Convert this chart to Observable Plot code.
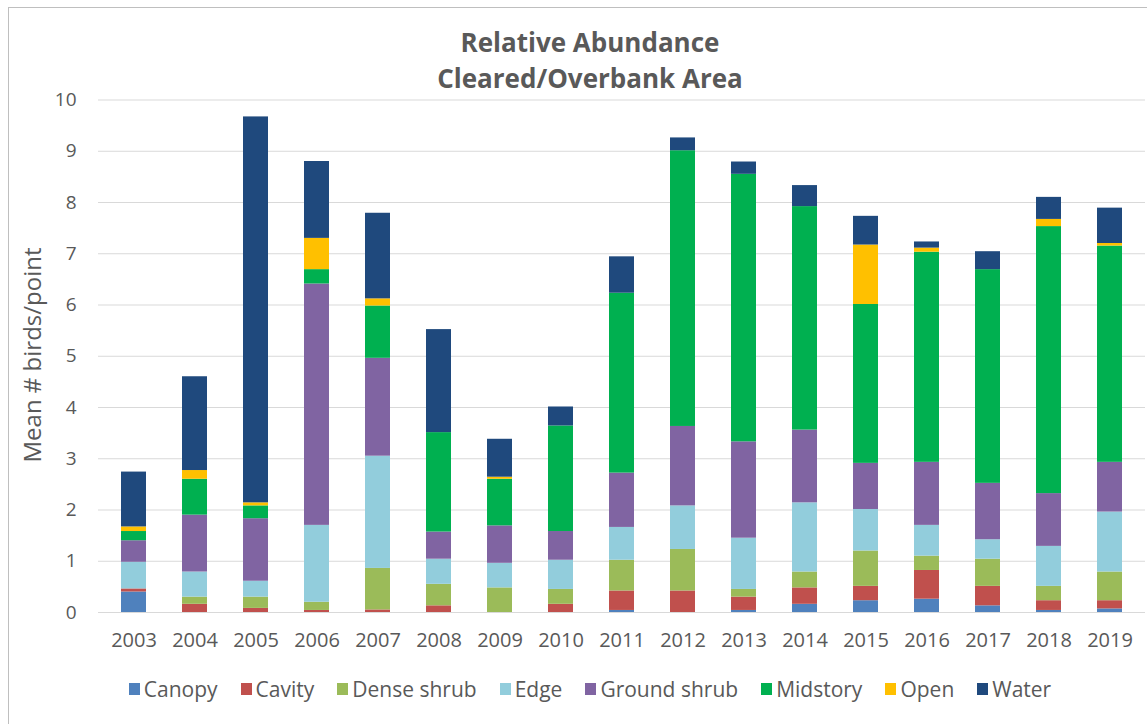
<!DOCTYPE html>
<html>
<head>
<meta charset="utf-8">
<script src="https://cdn.jsdelivr.net/npm/d3@7"></script>
<script src="https://cdn.jsdelivr.net/npm/@observablehq/plot@0.6"></script>
<style>
  html, body { margin: 0; padding: 0; background: #fff; }
  body { width: 1147px; height: 724px; position: relative; overflow: hidden; font-family: "Open Sans", Lato, sans-serif; color: #595959; }
  #frame { position: absolute; left: 8px; top: 7px; width: 1200px; height: 800px; border-top: 1px solid #bfbfbf; border-left: 1px solid #bfbfbf; }
  #title { position: absolute; left: 0; width: 1180px; top: 24px; text-align: center; font-weight: bold; font-size: 26px; line-height: 36px; color: #595959; }
  #ylabel { position: absolute; left: 31px; top: 355px; transform: translate(-50%, -50%) rotate(-90deg); font-size: 24px; white-space: nowrap; color: #595959; }
  #chart { position: absolute; left: 0; top: 85px; }
  #legend { position: absolute; left: 0; width: 1180px; top: 675px; display: flex; justify-content: center; gap: 23px; font-size: 21px; color: #595959; }
  .item { display: flex; align-items: center; gap: 4px; }
  .sw { width: 11px; height: 12px; display: inline-block; }
</style>
</head>
<body>
<div id="frame"></div>
<div id="title">Relative Abundance<br>Cleared/Overbank Area</div>
<div id="ylabel">Mean # birds/point</div>
<div id="chart"></div>
<div id="legend"></div>
<script>
const years = ["2003","2004","2005","2006","2007","2008","2009","2010","2011","2012","2013","2014","2015","2016","2017","2018","2019"];
const categories = ["Canopy","Cavity","Dense shrub","Edge","Ground shrub","Midstory","Open","Water"];
const colors = ["#4f81bd","#c0504d","#9bbb59","#92cddc","#8064a2","#00b050","#ffc000","#1f497d"];

const canopy      = [0.40,0.00,0.00,0.00,0.00,0.00,0.00,0.00,0.04,0.00,0.04,0.16,0.23,0.26,0.13,0.04,0.07];
const cavity      = [0.06,0.16,0.08,0.04,0.05,0.13,0.00,0.16,0.38,0.42,0.26,0.32,0.28,0.56,0.38,0.19,0.16];
const denseShrub  = [0.00,0.14,0.22,0.16,0.81,0.42,0.48,0.29,0.60,0.81,0.15,0.31,0.69,0.28,0.53,0.28,0.56];
const edge        = [0.52,0.49,0.31,1.50,2.19,0.49,0.48,0.57,0.64,0.85,1.00,1.35,0.81,0.60,0.38,0.78,1.17];
const groundShrub = [0.42,1.11,1.22,4.71,1.91,0.53,0.73,0.56,1.06,1.55,1.88,1.42,0.90,1.23,1.10,1.03,0.97];
const midstory    = [0.18,0.70,0.25,0.28,1.02,1.94,0.91,2.06,3.51,5.38,5.22,4.36,3.10,4.10,4.17,5.21,4.22];
const open        = [0.09,0.17,0.06,0.61,0.14,0.00,0.04,0.00,0.00,0.00,0.00,0.00,1.16,0.08,0.00,0.14,0.05];
const water       = [1.07,1.83,7.53,1.50,1.67,2.01,0.74,0.37,0.71,0.25,0.24,0.41,0.56,0.12,0.35,0.43,0.69];

const series = [canopy, cavity, denseShrub, edge, groundShrub, midstory, open, water];
const yTicks = [0,1,2,3,4,5,6,7,8,9,10];

const data = [];
years.forEach((yr, i) => {
  categories.forEach((cat, j) => {
    if (series[j][i] > 0) data.push({year: yr, category: cat, value: series[j][i]});
  });
});

const chart = Plot.plot({
  width: 1147,
  height: 570,
  marginLeft: 98,
  marginRight: 2,
  marginTop: 14.5,
  marginBottom: 43,
  style: {fontFamily: "'Open Sans', Lato, sans-serif", color: "#595959", background: "transparent"},
  x: {domain: years, paddingInner: 0.59, paddingOuter: 0.3, label: null},
  y: {domain: [0, 10], ticks: yTicks, label: null},
  color: {domain: categories, range: colors},
  marks: [
    Plot.gridY(yTicks, {stroke: "#d9d9d9", strokeOpacity: 1, strokeWidth: 1}),
    Plot.barY(data, {x: "year", y: "value", fill: "category", order: categories}),
    Plot.ruleY([0], {stroke: "#d9d9d9", strokeWidth: 1}),
    Plot.axisX({tickSize: 0, tickPadding: 20, fontSize: 20, label: null, fill: "#595959"}),
    Plot.axisY(yTicks, {tickSize: 0, tickPadding: 22, fontSize: 19, label: null, fill: "#595959", tickFormat: d => String(d)})
  ]
});
document.getElementById("chart").appendChild(chart);

const legend = document.getElementById("legend");
categories.forEach((cat, j) => {
  const it = document.createElement("div");
  it.className = "item";
  const sw = document.createElement("span");
  sw.className = "sw";
  sw.style.background = colors[j];
  const tx = document.createElement("span");
  tx.textContent = cat;
  it.appendChild(sw);
  it.appendChild(tx);
  legend.appendChild(it);
});
</script>
</body>
</html>
